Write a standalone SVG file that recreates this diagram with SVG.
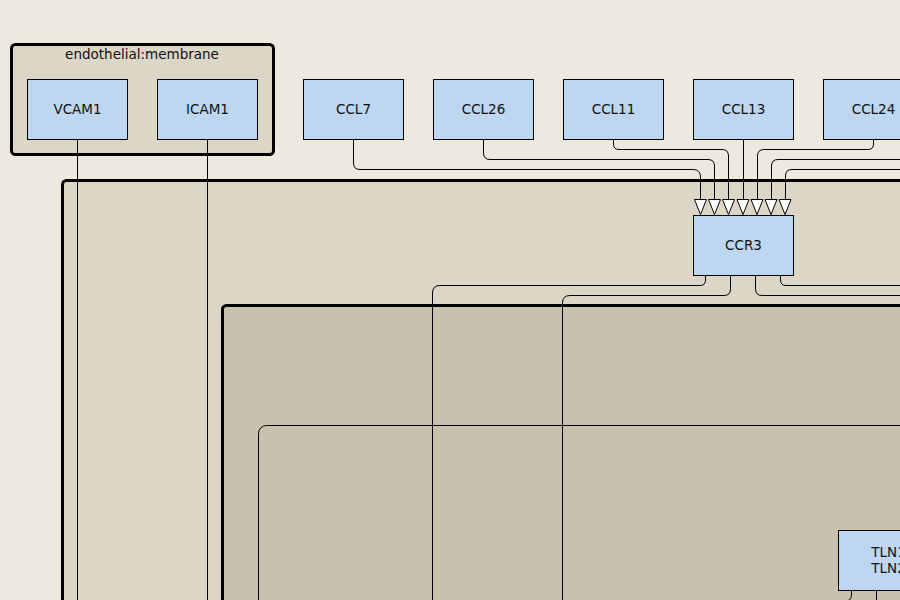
<svg xmlns="http://www.w3.org/2000/svg" width="900" height="600" viewBox="0 0 900 600">
<defs>
<style>
.comp{stroke:#000;stroke-width:3}
.node rect{fill:#bdd7f0;stroke:#000;stroke-width:1}
text{font-family:"DejaVu Sans","Liberation Sans",sans-serif;font-size:13.5px;fill:#111;text-anchor:middle}
.edge{fill:none;stroke:#000;stroke-width:1}
.arr{fill:#fff;stroke:#000;stroke-width:1}
</style>
</defs>
<rect x="0" y="0" width="900" height="600" fill="#ece9df"/>
<g id="compartment-endothelial">
<rect class="comp" x="11.5" y="44.5" width="262" height="110" rx="4" fill="#dcd6c6"/>
<text x="142" y="59">endothelial:membrane</text>
</g>
<g id="compartment-cell">
<rect class="comp" x="62.5" y="180.5" width="900" height="500" rx="4" fill="#dcd6c6"/>
</g>
<g id="compartment-cytoplasm">
<rect class="comp" x="222.5" y="305.5" width="760" height="400" rx="4" fill="#c7c1ae"/>
</g>
<g id="compartment-inner">
<rect x="258.5" y="425.5" width="700" height="300" rx="8" fill="none" stroke="#000" stroke-width="1"/>
</g>
<g id="connectors">
<path class="edge" d="M77.5,139 V600"/>
<path class="edge" d="M207.5,139 V600"/>
<path class="edge" d="M353.5,139 V163 Q353.5,169.5 360,169.5 H693 Q700.5,169.5 700.5,177 V200"/>
<path class="edge" d="M483.5,139 V153 Q483.5,159.5 490,159.5 H708 Q714.5,159.5 714.5,166 V200"/>
<path class="edge" d="M613.5,139 V144 Q613.5,149.5 619,149.5 H722 Q728.5,149.5 728.5,156 V200"/>
<path class="edge" d="M743.5,139 V200"/>
<path class="edge" d="M873.5,139 V144 Q873.5,149.5 868,149.5 H764 Q757.5,149.5 757.5,156 V200"/>
<path class="edge" d="M900,159.5 H778 Q771.5,159.5 771.5,166 V200"/>
<path class="edge" d="M900,169.5 H792 Q785.5,169.5 785.5,176 V200"/>
<path class="arr" d="M694.5,199.5 H706.5 L700.5,214.5 Z"/>
<path class="arr" d="M708.5,199.5 H720.5 L714.5,214.5 Z"/>
<path class="arr" d="M722.5,199.5 H734.5 L728.5,214.5 Z"/>
<path class="arr" d="M737,199.5 H749 L743,214.5 Z"/>
<path class="arr" d="M751,199.5 H763 L757,214.5 Z"/>
<path class="arr" d="M765,199.5 H777 L771,214.5 Z"/>
<path class="arr" d="M779,199.5 H791 L785,214.5 Z"/>
<path class="edge" d="M705.5,275 V280 Q705.5,285.5 700,285.5 H440 Q432.5,285.5 432.5,293 V600"/>
<path class="edge" d="M730.5,275 V289 Q730.5,295.5 724,295.5 H570 Q562.5,295.5 562.5,303 V600"/>
<path class="edge" d="M755.5,275 V289 Q755.5,295.5 762,295.5 H900"/>
<path class="edge" d="M780.5,275 V280 Q780.5,285.5 786,285.5 H900"/>
<path class="edge" d="M851.5,590 V595 Q851.5,601 845,601"/>
<path class="edge" d="M876.5,590 V600"/>
</g>
<g id="VCAM1" class="node"><rect x="27.5" y="79.5" width="100" height="60"/><text x="77.5" y="114">VCAM1</text></g>
<g id="ICAM1" class="node"><rect x="157.5" y="79.5" width="100" height="60"/><text x="207.5" y="114">ICAM1</text></g>
<g id="CCL7" class="node"><rect x="303.5" y="79.5" width="100" height="60"/><text x="353.5" y="114">CCL7</text></g>
<g id="CCL26" class="node"><rect x="433.5" y="79.5" width="100" height="60"/><text x="483.5" y="114">CCL26</text></g>
<g id="CCL11" class="node"><rect x="563.5" y="79.5" width="100" height="60"/><text x="613.5" y="114">CCL11</text></g>
<g id="CCL13" class="node"><rect x="693.5" y="79.5" width="100" height="60"/><text x="743.5" y="114">CCL13</text></g>
<g id="CCL24" class="node"><rect x="823.5" y="79.5" width="100" height="60"/><text x="873.5" y="114">CCL24</text></g>
<g id="CCR3" class="node"><rect x="693.5" y="215.5" width="100" height="60"/><text x="743.5" y="250">CCR3</text></g>
<g id="TLN1_TLN2" class="node"><rect x="838.5" y="530.5" width="100" height="60"/><text x="888.5" y="557">TLN1</text><text x="888.5" y="573">TLN2</text></g>
</svg>
